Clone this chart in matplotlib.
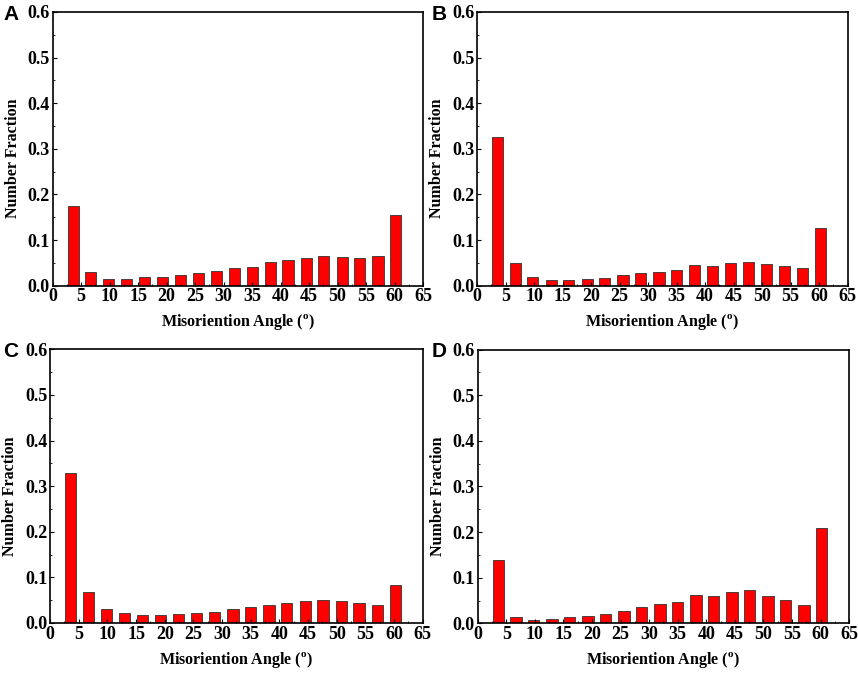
import numpy as np
import matplotlib
matplotlib.use("Agg")
import matplotlib.pyplot as plt
from matplotlib.ticker import MultipleLocator

# ---------------- DATA ---------------- #
# bin centres (misorientation angle, degrees)
angles = [3.6, 6.7, 9.8, 13.0, 16.1, 19.3, 22.4, 25.6, 28.7, 31.9,
          35.0, 38.2, 41.3, 44.5, 47.6, 50.8, 53.9, 57.1, 60.2]

frac_a = [0.175, 0.031, 0.015, 0.015, 0.018, 0.020, 0.023, 0.028, 0.032, 0.039,
          0.042, 0.052, 0.056, 0.061, 0.064, 0.063, 0.061, 0.066, 0.154]
frac_b = [0.327, 0.049, 0.018, 0.013, 0.013, 0.015, 0.017, 0.023, 0.027, 0.031,
          0.035, 0.045, 0.043, 0.050, 0.051, 0.048, 0.043, 0.039, 0.126]
frac_c = [0.328, 0.069, 0.030, 0.021, 0.018, 0.017, 0.019, 0.022, 0.024, 0.031,
          0.034, 0.040, 0.043, 0.049, 0.050, 0.048, 0.044, 0.039, 0.083]
frac_d = [0.139, 0.013, 0.008, 0.0095, 0.013, 0.016, 0.020, 0.027, 0.036, 0.043,
          0.047, 0.062, 0.061, 0.069, 0.072, 0.059, 0.052, 0.041, 0.210]

panel_labels = ["A", "B", "C", "D"]
# -------------------------------------- #

plt.rcParams["font.family"] = "Liberation Serif"
plt.rcParams["font.weight"] = "bold"
plt.rcParams["mathtext.fontset"] = "custom"
plt.rcParams["mathtext.rm"] = "Liberation Serif:bold"

fig = plt.figure(figsize=(8.58, 6.73), dpi=100)

positions = [
    [0.0614, 0.5755, 0.4316, 0.4067],
    [0.5560, 0.5755, 0.4320, 0.4067],
    [0.0583, 0.0743, 0.4344, 0.4067],
    [0.5568, 0.0738, 0.4328, 0.4067],
]
label_xy = [(0.004, 0.993), (0.503, 0.993), (0.004, 0.492), (0.503, 0.492)]

for pos, fr, lab, lxy in zip(positions, [frac_a, frac_b, frac_c, frac_d],
                             panel_labels, label_xy):
    ax = fig.add_axes(pos)
    ax.bar(angles, fr, width=1.95, color="#ff0000", edgecolor="#333333", linewidth=0.6)
    ax.set_xlim(0, 65)
    ax.set_ylim(0, 0.6)
    ax.xaxis.set_major_locator(MultipleLocator(5))
    ax.xaxis.set_minor_locator(MultipleLocator(2.5))
    ax.yaxis.set_major_locator(MultipleLocator(0.1))
    ax.yaxis.set_minor_locator(MultipleLocator(0.05))
    ax.yaxis.set_major_formatter(matplotlib.ticker.FormatStrFormatter("%.1f"))
    ax.tick_params(which="major", direction="in", length=3, width=0.8, labelsize=13, pad=2)
    ax.tick_params(which="minor", direction="in", length=1.5, width=0.6)
    for s in ax.spines.values():
        s.set_linewidth(1.2)
    ax.set_xlabel(r"Misoriention Angle ($^{\mathrm{o}}$)", fontsize=11.5, fontweight="bold", labelpad=5)
    ax.set_ylabel("Number Fraction", fontsize=11.5, fontweight="bold")
    ax.yaxis.set_label_coords(-0.086, 0.464)
    fig.text(lxy[0], lxy[1], lab, fontsize=15, fontweight="bold",
             family="Liberation Sans", va="top", ha="left")

fig.savefig("out.png", dpi=100)
